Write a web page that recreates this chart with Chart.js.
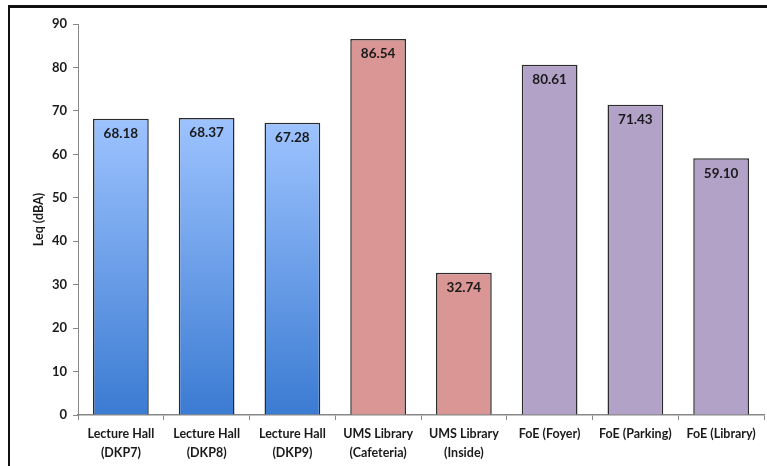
<!DOCTYPE html>
<html>
<head>
<meta charset="utf-8">
<script src="https://cdn.jsdelivr.net/npm/chart.js@4.4.0/dist/chart.umd.min.js"></script>
<style>
  html, body { margin: 0; padding: 0; background: #fff; overflow: hidden; }
  #wrap { position: relative; width: 767px; height: 466px; }
  #frame {
    position: absolute; left: 8px; top: 5px; width: 800px; height: 500px;
    border-left: 2px solid #111; border-top: 3px solid #111;
    box-shadow: -1px -1px 0 #bbb inset;
    pointer-events: none;
  }
  canvas { position: absolute; left: 0; top: 0; }
</style>
</head>
<body>
<div id="wrap">
  <canvas id="noiseChart" width="767" height="466"></canvas>
  <div id="frame"></div>
</div>
<script>
// Sites and measured Leq values
const sites = [
    ['Lecture Hall', '(DKP7)'],
    ['Lecture Hall', '(DKP8)'],
    ['Lecture Hall', '(DKP9)'],
    ['UMS Library', '(Cafeteria)'],
    ['UMS Library', '(Inside)'],
    'FoE (Foyer)',
    'FoE (Parking)',
    'FoE (Library)'
];
const leq = [68.18, 68.37, 67.28, 86.54, 32.74, 80.61, 71.43, 59.10];
const groups = ['hall', 'hall', 'hall', 'ums', 'ums', 'foe', 'foe', 'foe'];
const yTicks = [0, 10, 20, 30, 40, 50, 60, 70, 80, 90];

const FONT = 'Lato, "Open Sans", sans-serif';

function barColor(ctx) {
    const g = groups[ctx.dataIndex];
    if (g === 'ums') return '#d99694';
    if (g === 'foe') return '#b3a2c8';
    const chart = ctx.chart;
    const area = chart.chartArea;
    if (!area) return '#6a9fe8';
    const y = chart.scales.y;
    const top = y.getPixelForValue(leq[ctx.dataIndex]);
    const bottom = y.getPixelForValue(0);
    const grad = chart.ctx.createLinearGradient(0, top, 0, bottom);
    grad.addColorStop(0, '#9dc3ff');
    grad.addColorStop(1, '#3b7bd2');
    return grad;
}

// Value labels inside each bar, near the top
const valueLabels = {
    id: 'valueLabels',
    afterDatasetsDraw(chart) {
        const ctx = chart.ctx;
        const meta = chart.getDatasetMeta(0);
        ctx.save();
        ctx.font = 'bold 13.5px ' + FONT;
        ctx.fillStyle = '#1a1a1a';
        ctx.textAlign = 'center';
        ctx.textBaseline = 'middle';
        meta.data.forEach((bar, i) => {
            ctx.fillText(leq[i].toFixed(2), bar.x, bar.y + 15);
        });
        ctx.restore();
    }
};

new Chart(document.getElementById('noiseChart').getContext('2d'), {
    type: 'bar',
    data: {
        labels: sites,
        datasets: [{
            label: 'Leq',
            data: leq,
            backgroundColor: barColor,
            borderColor: '#2b2b2b',
            borderWidth: 1.5,
            barPercentage: 0.65,
            categoryPercentage: 1
        }]
    },
    options: {
        responsive: false,
        animation: false,
        layout: { padding: { left: 20, top: 24, right: 3, bottom: 0 } },
        plugins: {
            legend: { display: false },
            tooltip: { enabled: false }
        },
        scales: {
            x: {
                grid: { drawOnChartArea: false, tickLength: 5, color: '#888' },
                border: { color: '#888', width: 1.5 },
                ticks: {
                    font: { family: FONT, size: 12.5, weight: 'bold', lineHeight: 1.5 },
                    color: '#1a1a1a',
                    padding: 5,
                    maxRotation: 0,
                    autoSkip: false
                },
                afterFit(scale) { scale.height = 51; }
            },
            y: {
                min: 0,
                max: 90,
                afterBuildTicks(scale) { scale.ticks = yTicks.map(v => ({ value: v })); },
                grid: { drawOnChartArea: false, tickLength: 5, color: '#888' },
                border: { color: '#888', width: 1 },
                ticks: {
                    font: { family: FONT, size: 13, weight: 'bold' },
                    color: '#1a1a1a',
                    padding: 6
                },
                title: {
                    display: true,
                    text: 'Leq (dBA)',
                    font: { family: FONT, size: 12.5, weight: 'bold' },
                    color: '#1a1a1a',
                    padding: { top: 11, bottom: 0 }
                },
                afterFit(scale) { scale.width = 58; }
            }
        }
    },
    plugins: [valueLabels]
});
</script>
</body>
</html>
